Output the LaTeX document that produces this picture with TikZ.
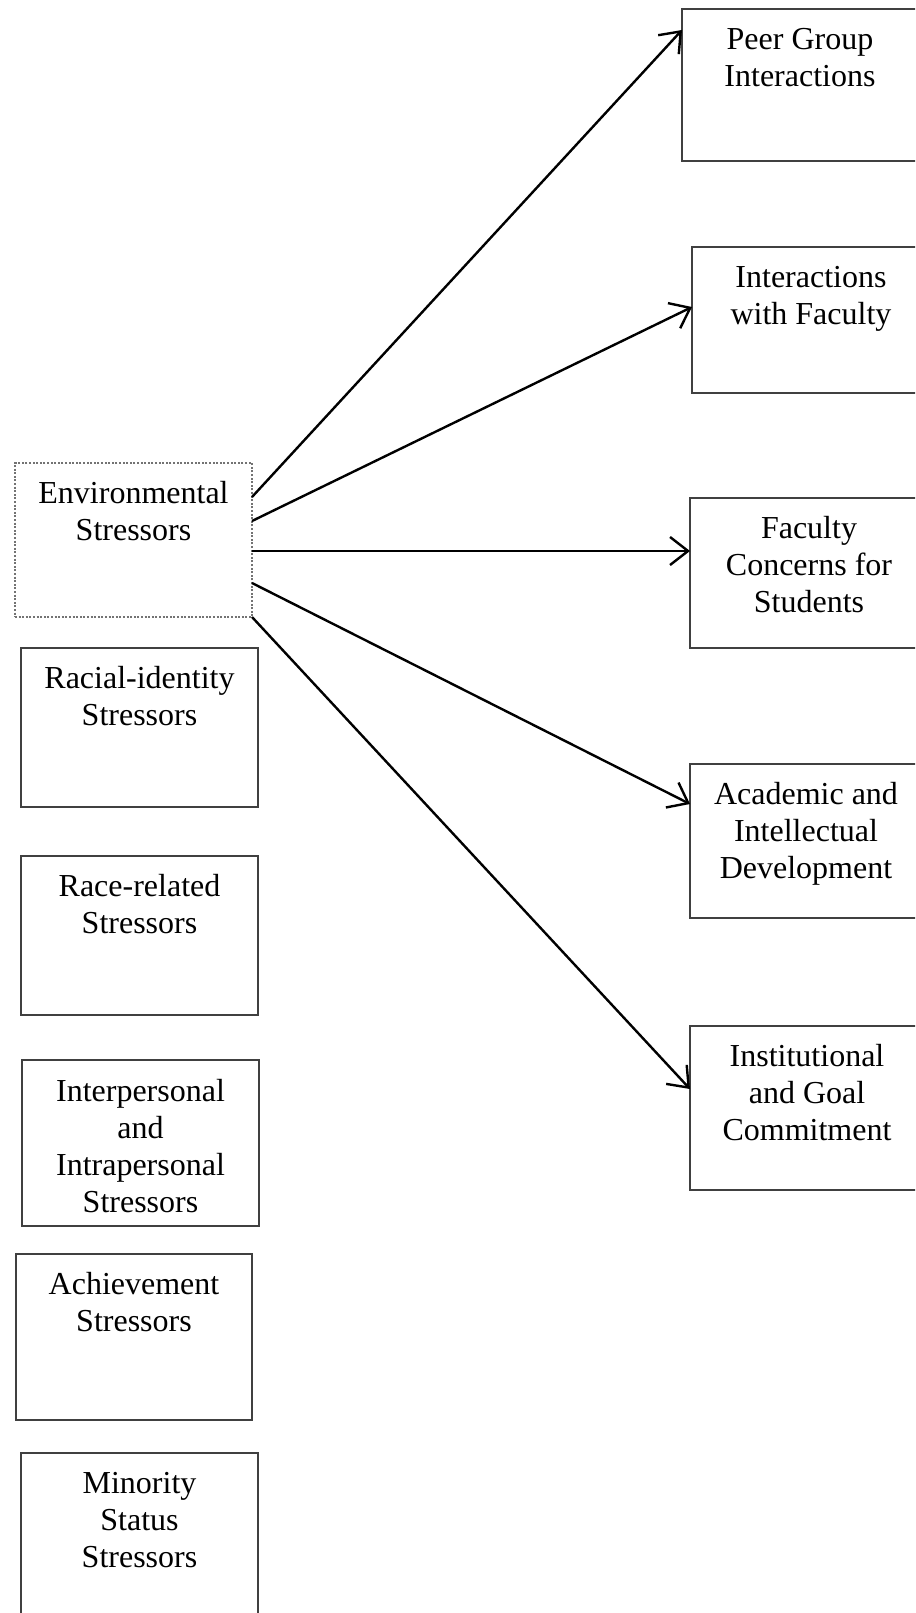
\documentclass[tikz,border=0pt]{standalone}
\usepackage{fontspec}
\setmainfont{Liberation Serif}
\usetikzlibrary{arrows.meta,calc}
\begin{document}
\begin{tikzpicture}[x=1pt,y=-1pt,
  box/.style={draw=black!75, line width=1.2pt, rectangle, inner sep=0pt, outer sep=0pt, anchor=north west},
  envbox/.style={box, draw=black!55, dash pattern=on 2pt off 1.6pt},
  lbl/.style={anchor=north, inner sep=0pt, align=center, font=\fontsize{32}{37}\selectfont},
  link/.style={line width=2.4pt, -{Straight Barb[length=18pt,width=28pt,line width=2.4pt]}}]
\useasboundingbox (0,0) rectangle (915,1613);
\clip (0,0) rectangle (915,1613);

% source box
\node[envbox, minimum width=237pt, minimum height=154pt] (env) at (15,463) {};
\node[lbl] (env-t) at ($(env.north)+(0,14)$) {\strut Environmental\\Stressors};

% stressor column
\node[box, minimum width=237pt, minimum height=159pt] (racial) at (21,648) {};
\node[lbl] (racial-t) at ($(racial.north)+(0,14)$) {\strut Racial-identity\\Stressors};

\node[box, minimum width=237pt, minimum height=159pt] (racerel) at (21,856) {};
\node[lbl] (racerel-t) at ($(racerel.north)+(0,14)$) {\strut Race-related\\Stressors};

\node[box, minimum width=237pt, minimum height=166pt] (interp) at (22,1060) {};
\node[lbl] (interp-t) at ($(interp.north)+(0,15)$) {\strut Interpersonal\\and\\Intrapersonal\\Stressors};

\node[box, minimum width=236pt, minimum height=166pt] (achiev) at (16,1254) {};
\node[lbl] (achiev-t) at ($(achiev.north)+(0,14)$) {\strut Achievement\\Stressors};

\node[box, minimum width=237pt, minimum height=190pt] (minor) at (21,1453) {};
\node[lbl] (minor-t) at ($(minor.north)+(0,14)$) {\strut Minority\\Status\\Stressors};

% outcome column
\node[box, minimum width=236pt, minimum height=152pt] (peer) at (682,9) {};
\node[lbl] (peer-t) at ($(peer.north)+(0,14)$) {\strut Peer Group\\Interactions};

\node[box, minimum width=238pt, minimum height=146pt] (intfac) at (692,247) {};
\node[lbl] (intfac-t) at ($(intfac.north)+(0,14)$) {\strut Interactions\\with Faculty};

\node[box, minimum width=238pt, minimum height=150pt] (faccon) at (690,498) {};
\node[lbl] (faccon-t) at ($(faccon.north)+(0,14)$) {\strut Faculty\\Concerns for\\Students};

\node[box, minimum width=232pt, minimum height=154pt] (acad) at (690,764) {};
\node[lbl] (acad-t) at ($(acad.north)+(0,14)$) {\strut Academic and\\Intellectual\\Development};

\node[box, minimum width=234pt, minimum height=164pt] (inst) at (690,1026) {};
\node[lbl] (inst-t) at ($(inst.north)+(0,14)$) {\strut Institutional\\and Goal\\Commitment};

% connectors
\draw[link] ($(env.north east)+(0,34)$) -- ($(peer.north west)+(0,21)$);
\draw[link] ($(env.north east)+(0,58)$) -- ($(intfac.north west)+(0,60)$);
\draw[link] ($(env.north east)+(0,88)$) -- ($(faccon.north west)+(0,53)$);
\draw[link] ($(env.north east)+(0,120)$) -- ($(acad.north west)+(0,40)$);
\draw[link] (env.south east) -- ($(inst.north west)+(0,63)$);
\end{tikzpicture}
\end{document}
